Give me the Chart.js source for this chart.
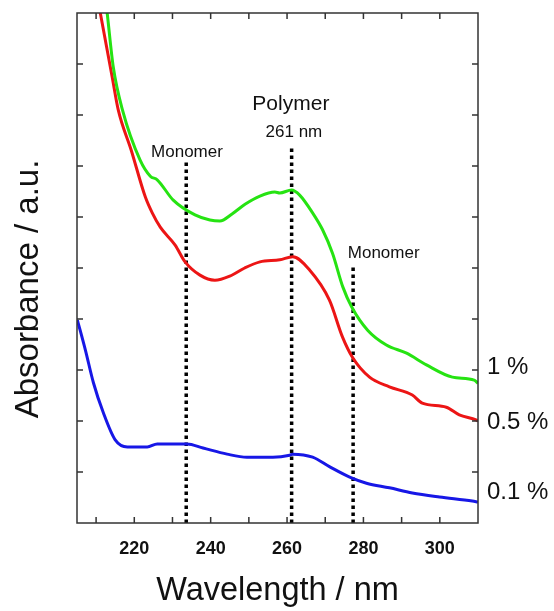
<!DOCTYPE html>
<html>
<head>
<meta charset="utf-8">
<script src="https://cdn.jsdelivr.net/npm/chart.js@4.4.0/dist/chart.umd.min.js"></script>
<style>
  html, body { margin: 0; padding: 0; background: #fff; }
</style>
</head>
<body>
<canvas id="uvChart" width="554" height="611"></canvas>
<script>
// spectra (wavelength in nm, absorbance in arbitrary units)
const nm1 = [212.1, 212.9, 214.5, 216.9, 221.5, 224.2, 226.0, 230.2, 235.9, 239.8, 242.4, 245.6, 249.0, 252.9, 256.8, 258.1, 261.2, 263.3, 266.7, 269.3, 271.9, 274.6, 276.9, 281.1, 286.0, 291.3, 296.5, 303.3, 309.0, 310.0];
const abs1 = [10.5, 10.0, 8.94, 8.10, 7.12, 6.80, 6.73, 6.33, 6.04, 5.94, 5.92, 6.06, 6.25, 6.41, 6.49, 6.47, 6.53, 6.43, 6.08, 5.75, 5.29, 4.63, 4.24, 3.78, 3.49, 3.33, 3.10, 2.86, 2.80, 2.74];

const nm05 = [210.0, 211.1, 214.2, 215.8, 219.2, 222.9, 224.7, 226.8, 230.7, 233.3, 237.2, 241.1, 245.0, 248.9, 252.9, 258.1, 261.5, 265.9, 271.1, 274.5, 277.2, 281.6, 286.8, 292.8, 295.4, 301.7, 305.1, 309.5, 310.0];
const abs05 = [10.45, 10.0, 8.75, 8.10, 7.31, 6.39, 6.08, 5.80, 5.45, 5.12, 4.86, 4.76, 4.84, 5.00, 5.12, 5.16, 5.22, 4.96, 4.37, 3.65, 3.24, 2.86, 2.67, 2.51, 2.35, 2.27, 2.12, 2.02, 2.00];

const nm01 = [205.1, 207.2, 209.3, 211.9, 215.0, 218.2, 223.4, 226.0, 233.8, 238.0, 244.3, 249.5, 256.3, 260.7, 261.5, 266.7, 271.2, 276.4, 280.8, 286.8, 292.8, 299.9, 308.5, 310.0];
const abs01 = [3.98, 3.39, 2.75, 2.16, 1.63, 1.49, 1.49, 1.55, 1.55, 1.47, 1.35, 1.29, 1.29, 1.33, 1.35, 1.29, 1.10, 0.90, 0.78, 0.69, 0.59, 0.51, 0.43, 0.41];

// dotted markers: wavelength and the height where each one stops
const markerNm = [233.6, 261.2, 277.3];
const markerTop = [7.12, 7.35, 5.04];

// annotation texts and where they sit (data units)
const noteText = ['Monomer', 'Polymer', '261 nm', 'Monomer'];
const noteNm = [233.8, 261.0, 261.8, 285.3];
const noteAbs = [7.18, 8.10, 7.57, 5.20];
const noteSize = [17, 21, 17, 17];

// concentration labels to the right of the frame
const concText = ['1 %', '0.5 %', '0.1 %'];
const concAbs = [3.06, 1.98, 0.61];

const xTicks = [210, 220, 230, 240, 250, 260, 270, 280, 290, 300];
const yTicks = [1, 2, 3, 4, 5, 6, 7, 8, 9];

const FONT = '"Liberation Sans", Arial, Helvetica, sans-serif';

function toPoints(xs, ys) {
    return xs.map((x, i) => ({ x: x, y: ys[i] }));
}

function curve(label, xs, ys, color) {
    return {
        label: label,
        data: toPoints(xs, ys),
        borderColor: color,
        borderWidth: 3,
        pointRadius: 0,
        showLine: true,
        cubicInterpolationMode: 'monotone'
    };
}

const datasets = [
    curve('1 %', nm1, abs1, '#26e312'),
    curve('0.5 %', nm05, abs05, '#ec1515'),
    curve('0.1 %', nm01, abs01, '#1717e6')
];

markerNm.forEach((x, i) => {
    datasets.push({
        label: 'marker' + i,
        data: [{ x: x, y: 0 }, { x: x, y: markerTop[i] }],
        borderColor: '#000',
        borderWidth: 3.5,
        borderDash: [3.5, 3.5],
        borderCapStyle: 'butt',
        pointRadius: 0,
        showLine: true
    });
});

// frame with inward ticks, the y title and the text notes
const framePlugin = {
    id: 'frame',
    afterDatasetsDraw(chart) {
        const ctx = chart.ctx;
        const a = chart.chartArea;
        const xs = chart.scales.x, ys = chart.scales.y;
        ctx.save();
        ctx.strokeStyle = '#333';
        ctx.lineWidth = 1.5;
        ctx.strokeRect(a.left, a.top, a.right - a.left, a.bottom - a.top);
        ctx.beginPath();
        xTicks.forEach(v => {
            const px = xs.getPixelForValue(v);
            ctx.moveTo(px, a.bottom); ctx.lineTo(px, a.bottom - 6);
            ctx.moveTo(px, a.top); ctx.lineTo(px, a.top + 6);
        });
        yTicks.forEach(v => {
            const py = ys.getPixelForValue(v);
            ctx.moveTo(a.left, py); ctx.lineTo(a.left + 6, py);
            ctx.moveTo(a.right, py); ctx.lineTo(a.right - 6, py);
        });
        ctx.stroke();

        ctx.fillStyle = '#111';
        ctx.textAlign = 'center';
        ctx.textBaseline = 'alphabetic';
        noteText.forEach((t, i) => {
            ctx.font = noteSize[i] + 'px ' + FONT;
            ctx.fillText(t, xs.getPixelForValue(noteNm[i]), ys.getPixelForValue(noteAbs[i]));
        });

        ctx.textAlign = 'left';
        ctx.textBaseline = 'middle';
        ctx.font = '24px ' + FONT;
        concText.forEach((t, i) => {
            ctx.fillText(t, a.right + 9, ys.getPixelForValue(concAbs[i]));
        });

        // y axis title, sits a bit below the middle of the frame in the original
        ctx.save();
        ctx.translate(29, 289);
        ctx.rotate(-Math.PI / 2);
        ctx.textAlign = 'center';
        ctx.font = '33px ' + FONT;
        ctx.fillText('Absorbance / a.u.', 0, 0);
        ctx.restore();
        ctx.restore();
    }
};

new Chart(document.getElementById('uvChart'), {
    type: 'scatter',
    data: { datasets: datasets },
    options: {
        responsive: false,
        devicePixelRatio: 1,
        animation: false,
        layout: { padding: { top: 13, right: 76, left: 0, bottom: 0 } },
        plugins: {
            legend: { display: false },
            tooltip: { enabled: false }
        },
        scales: {
            x: {
                type: 'linear',
                min: 205,
                max: 310,
                grid: { display: false },
                border: { display: false },
                ticks: {
                    stepSize: 10,
                    autoSkip: false,
                    maxRotation: 0,
                    padding: 7,
                    color: '#111',
                    font: { family: FONT, size: 18, weight: 'bold' },
                    callback: v => (v % 20 === 0 ? v : '')
                },
                title: {
                    display: true,
                    text: 'Wavelength / nm',
                    color: '#111',
                    font: { family: FONT, size: 32.5 },
                    padding: { top: 0, bottom: 0 }
                },
                afterFit: s => { s.height = 88; }
            },
            y: {
                min: 0,
                max: 10,
                grid: { display: false },
                border: { display: false },
                ticks: { display: false },
                title: { display: false },
                afterFit: s => { s.width = 77; }
            }
        }
    },
    plugins: [framePlugin]
});
</script>
</body>
</html>
